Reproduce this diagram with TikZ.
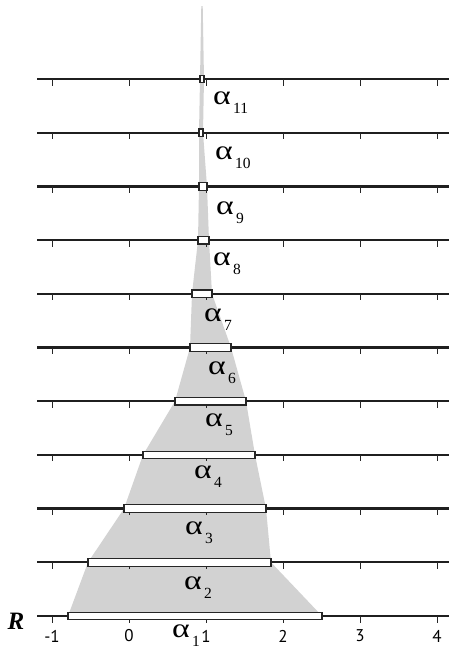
\documentclass[tikz,border=0pt]{standalone}
\usepackage{fontspec}
\newfontfamily\grk{Liberation Serif}
\newfontfamily\ticksf{PT Sans}
\begin{document}
\begin{tikzpicture}[x=1pt,y=-1pt,
  axisline/.style={line width=2.3pt, black!88},
  tickmark/.style={line width=1pt, black!85},
  barbox/.style={line width=1.2pt, draw=black!85, fill=white},
  ticklab/.style={font=\ticksf\fontsize{17}{17}\selectfont, inner sep=0pt},
  alab/.style={font=\grk\fontsize{27}{27}\selectfont, inner sep=0pt},
  sublab/.style={font=\grk\fontsize{15.5}{15.5}\selectfont, inner sep=0pt, anchor=west}]
\useasboundingbox (0,0) rectangle (449,648);
\definecolor{greyfill}{RGB}{210,210,210}
\fill[greyfill] (201.3,6) -- (202.7,6) -- (204,79) -- (203,132.7) -- (207,186.4) -- (209,240.1)
  -- (212,293.8) -- (231,347.5) -- (246,401.2) -- (255,454.9) -- (266,508.6)
  -- (271,562.3) -- (322,616) -- (68,616) -- (88,562.3) -- (124,508.6)
  -- (143,454.9) -- (175,401.2) -- (190,347.5) -- (192,293.8) -- (198,240.1)
  -- (199,186.4) -- (199,132.7) -- (200,79) -- cycle;
\foreach \k/\a/\b in {0/200/204, 1/199/203, 2/199/207, 3/198/209, 4/192/212,
  5/190/231, 6/175/246, 7/143/255, 8/124/266, 9/88/271, 10/68/322} {
  \pgfmathsetmacro\yy{79+53.7*\k}
  \draw[axisline] (37,\yy) -- (449,\yy);
  \foreach \t in {52,129,206,283,360,437} \draw[tickmark] (\t,\yy) -- (\t,\yy+6.5);
  \draw[barbox] (\a,\yy-3.8) rectangle (\b,\yy+3.8);
}
\foreach \v/\t in {-1/52,0/129,1/206,2/283,3/360,4/437}
  \node[ticklab] (t\t) at (\t,636) {\v};
\node[font=\grk\bfseries\itshape\fontsize{25}{25}\selectfont, inner sep=0pt] (R) at (16,621) {R};
\foreach \s/\x/\y in {11/222/98, 10/224/153, 9/225/208, 8/222/259, 7/213/315,
  6/217/368, 5/214/420, 4/203/472, 3/194/528, 2/193/583, 1/181/631} {
  \node[alab] (a\s) at (\x,\y) {\scalebox{1.25}[1]{α}};
  \node[sublab] (s\s) at (\x+11,\y+10) {\s};
}
\end{tikzpicture}
\end{document}
